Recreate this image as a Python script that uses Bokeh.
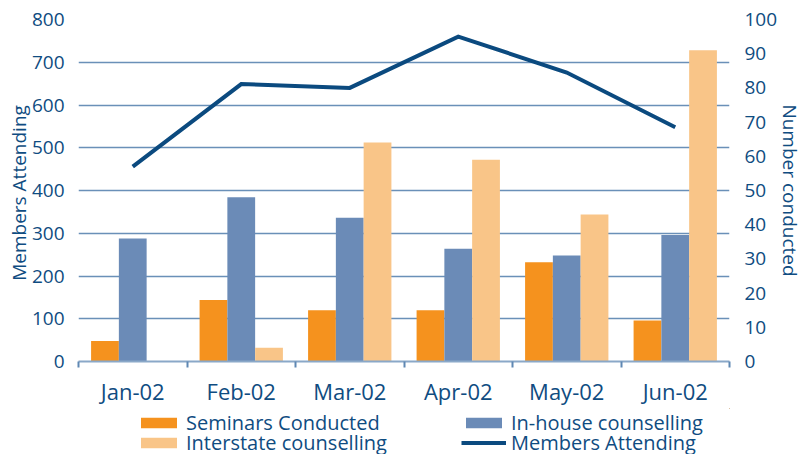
from bokeh.plotting import figure
from bokeh.layouts import column
from bokeh.models import (ColumnDataSource, Range1d, LinearAxis, FixedTicker,
                          Legend, LegendItem)
from bokeh.transform import dodge
from bokeh.embed import file_html
from bokeh.resources import INLINE

months = ["Jan-02", "Feb-02", "Mar-02", "Apr-02", "May-02", "Jun-02"]
seminars = [6, 18, 15, 15, 29, 12]
inhouse = [36, 48, 42, 33, 31, 37]
interstate = [0, 4, 64, 59, 43, 91]
members = [456, 649, 640, 760, 676, 548]
left_ticks = [0, 100, 200, 300, 400, 500, 600, 700, 800]
right_ticks = [0, 10, 20, 30, 40, 50, 60, 70, 80, 90, 100]
series_names = ["Seminars Conducted", "In-house counselling",
                "Interstate counselling", "Members Attending"]
left_title = "Members  Attending"
right_title = "Number conducted"

FONT = "Open Sans"
TXT = "#0F4C81"
C_SEM = "#F5921E"
C_IN = "#6B8BB7"
C_INT = "#F9C588"
C_LINE = "#0B4A7F"
GRID = "#6A90B8"

centers = [i + 0.5 for i in range(len(months))]
src = ColumnDataSource(dict(x=centers, seminars=seminars, inhouse=inhouse,
                            interstate=interstate, members=members))

p = figure(width=806, height=408,
           x_range=Range1d(0, len(months)), y_range=Range1d(0, 800),
           output_backend="svg", toolbar_location=None,
           min_border_left=78, min_border_right=72, min_border_top=19,
           min_border_bottom=46)
p.extra_y_ranges = {"n": Range1d(0, 100)}
p.outline_line_color = None
p.background_fill_color = "white"
p.border_fill_color = "white"

W = 0.256
p.vbar(x=dodge("x", -W, range=p.x_range), top="seminars", width=W, source=src,
       y_range_name="n", fill_color=C_SEM, line_color=None)
p.vbar(x="x", top="inhouse", width=W, source=src,
       y_range_name="n", fill_color=C_IN, line_color=None)
p.vbar(x=dodge("x", W, range=p.x_range), top="interstate", width=W, source=src,
       y_range_name="n", fill_color=C_INT, line_color=None)
p.line(x="x", y="members", source=src, line_color=C_LINE, line_width=4,
       line_join="miter")

# x axis: labels at category centres, ticks at category boundaries
xa = p.xaxis[0]
xa.ticker = FixedTicker(ticks=centers, minor_ticks=list(range(len(months) + 1)))
xa.major_label_overrides = {c: m for c, m in zip(centers, months)}
xa.major_tick_line_color = None
xa.minor_tick_in = 0
xa.minor_tick_out = 6
xa.minor_tick_line_color = "#5F88B3"
xa.minor_tick_line_width = 2
xa.axis_line_color = "#8AA8C8"
xa.axis_line_width = 2
xa.major_label_text_font = FONT
xa.major_label_text_font_size = "22px"
xa.major_label_text_color = TXT
xa.major_label_standoff = 8

# left axis
ya = p.yaxis[0]
ya.ticker = FixedTicker(ticks=left_ticks)
ya.axis_line_color = None
ya.major_tick_line_color = None
ya.minor_tick_line_color = None
ya.major_label_text_font = FONT
ya.major_label_text_font_size = "19px"
ya.major_label_text_color = TXT
ya.major_label_standoff = 8
ya.axis_label = left_title
ya.axis_label_text_font = FONT
ya.axis_label_text_font_size = "19px"
ya.axis_label_text_font_style = "normal"
ya.axis_label_text_color = TXT
ya.axis_label_standoff = -3

# right axis
ra = LinearAxis(y_range_name="n", ticker=FixedTicker(ticks=right_ticks))
ra.axis_line_color = None
ra.major_tick_line_color = None
ra.minor_tick_line_color = None
ra.major_label_text_font = FONT
ra.major_label_text_font_size = "19px"
ra.major_label_text_color = TXT
ra.major_label_standoff = 9
ra.axis_label = right_title
ra.axis_label_text_font = FONT
ra.axis_label_text_font_size = "19px"
ra.axis_label_text_font_style = "normal"
ra.axis_label_text_color = TXT
ra.axis_label_standoff = -3
p.add_layout(ra, "right")

p.xgrid.grid_line_color = None
p.ygrid.ticker = FixedTicker(ticks=left_ticks)
p.ygrid.grid_line_color = GRID
p.ygrid.grid_line_width = 1.6

# legend strip (its frame is aligned with the chart frame by the column layout);
# its sample renderers sit outside its visible ranges
lg = figure(width=806, height=46, x_range=Range1d(-100, -94), y_range=Range1d(-2, -1),
            output_backend="svg", toolbar_location=None,
            x_axis_location=None, y_axis_location=None,
            min_border_left=0, min_border_right=0, min_border_top=0,
            min_border_bottom=0)
lg.outline_line_color = None
lg.xgrid.grid_line_color = None
lg.ygrid.grid_line_color = None
k1 = lg.vbar(x="x", top="seminars", width=W, source=src,
             fill_color=C_SEM, line_color=None)
k2 = lg.vbar(x="x", top="inhouse", width=W, source=src,
             fill_color=C_IN, line_color=None)
k3 = lg.vbar(x="x", top="interstate", width=W, source=src,
             fill_color=C_INT, line_color=None)
k4 = lg.line(x="x", y="members", source=src, line_color=C_LINE, line_width=4)


def make_legend(pairs, loc):
    leg = Legend(items=[LegendItem(label=n, renderers=[r]) for n, r in pairs],
                 orientation="horizontal", location=loc)
    leg.glyph_width = 45
    leg.glyph_height = 13
    leg.label_standoff = 5
    leg.label_width = 275
    leg.spacing = 0
    leg.padding = 0
    leg.margin = 0
    leg.border_line_color = None
    leg.background_fill_alpha = 0
    leg.label_text_font = FONT
    leg.label_text_font_size = "20px"
    leg.label_text_color = TXT
    return leg


lg.add_layout(make_legend([(series_names[0], k1), (series_names[1], k2)], (58, 18)), "center")
lg.add_layout(make_legend([(series_names[2], k3), (series_names[3], k4)], (58, -2)), "center")

open("out.html", "w").write(file_html(column(p, lg, spacing=0), INLINE))
